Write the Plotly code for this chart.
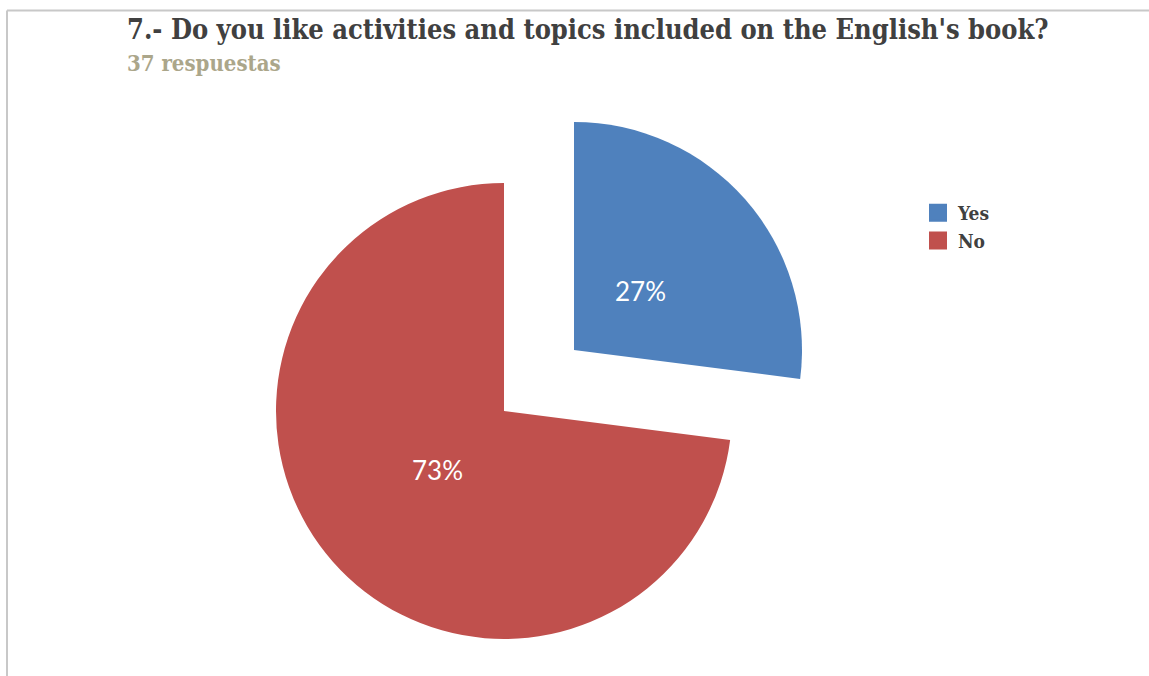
import math
import plotly.graph_objects as go

# ---- data ----
categories = ["Yes", "No"]
responses = [10, 27]          # 37 respuestas -> 27% / 73%
colors = ["#4F81BD", "#C0504D"]
title_text = "7.- Do you like activities and topics included on the English's book?"
subtitle_text = "37 respuestas"

TRANSPARENT = "rgba(0,0,0,0)"
W, H = 1149, 676
R = 228
# pie centres in pixels (the "Yes" slice is exploded away from the centre)
centres = [(574, 350), (504, 411)]
LABEL_RADIUS = 0.39
SERIF = "DejaVu Serif Condensed, DejaVu Serif, serif"


def dom(cx, cy, r):
    return dict(x=[(cx - r) / W, (cx + r) / W], y=[1 - (cy + r) / H, 1 - (cy - r) / H])


fig = go.Figure()
total = sum(responses)
annotations = []
cum = 0
for i, (cat, val) in enumerate(zip(categories, responses)):
    cols = [TRANSPARENT] * len(categories)
    cols[i] = colors[i]
    cx, cy = centres[i]
    fig.add_trace(go.Pie(
        labels=categories, values=responses, sort=False, direction="clockwise", rotation=0,
        marker=dict(colors=cols, line=dict(width=0)),
        textinfo="none", domain=dom(cx, cy, R), showlegend=False,
        hoverinfo="label+percent",
    ))
    theta = 2 * math.pi * (cum + val / 2) / total
    px = cx + LABEL_RADIUS * R * math.sin(theta)
    py = cy - LABEL_RADIUS * R * math.cos(theta)
    annotations.append(dict(
        text=f"{round(100 * val / total)}%", x=px / W, y=1 - py / H, xref="paper", yref="paper",
        xanchor="center", yanchor="middle", showarrow=False,
        font=dict(family="Lato, Open Sans, sans-serif", size=26, color="white")))
    cum += val

# legend entries
for cat, col in zip(categories, colors):
    fig.add_trace(go.Scatter(
        x=[None], y=[None], mode="markers", name=cat,
        marker=dict(symbol="square", size=16, color=col, line=dict(color=col, width=2)),
    ))

annotations += [
    dict(text="<b>" + title_text + "</b>", x=125 / W, y=1 - 12 / H, xref="paper", yref="paper",
         xanchor="left", yanchor="top", showarrow=False,
         font=dict(family=SERIF, size=27, color="#404040")),
    dict(text="<b>" + subtitle_text + "</b>", x=125 / W, y=1 - 48 / H, xref="paper", yref="paper",
         xanchor="left", yanchor="top", showarrow=False,
         font=dict(family=SERIF, size=22, color="#ABA68A")),
]

fig.update_layout(
    width=W, height=H,
    margin=dict(l=0, r=0, t=0, b=0),
    paper_bgcolor="white", plot_bgcolor="white",
    xaxis=dict(visible=False), yaxis=dict(visible=False),
    legend=dict(x=918 / W, y=1 - 194 / H, xanchor="left", yanchor="top",
                font=dict(family=SERIF, size=19, color="#404040", weight="bold"),
                tracegroupgap=0, bgcolor="rgba(0,0,0,0)"),
    annotations=annotations,
    shapes=[
        dict(type="line", xref="paper", yref="paper", x0=7 / W, x1=1, y0=1 - 10.5 / H, y1=1 - 10.5 / H,
             line=dict(color="#C8C8C8", width=2)),
        dict(type="line", xref="paper", yref="paper", x0=7 / W, x1=7 / W, y0=0, y1=1 - 10.5 / H,
             line=dict(color="#C8C8C8", width=2)),
    ],
)

fig.write_html("out.html")
